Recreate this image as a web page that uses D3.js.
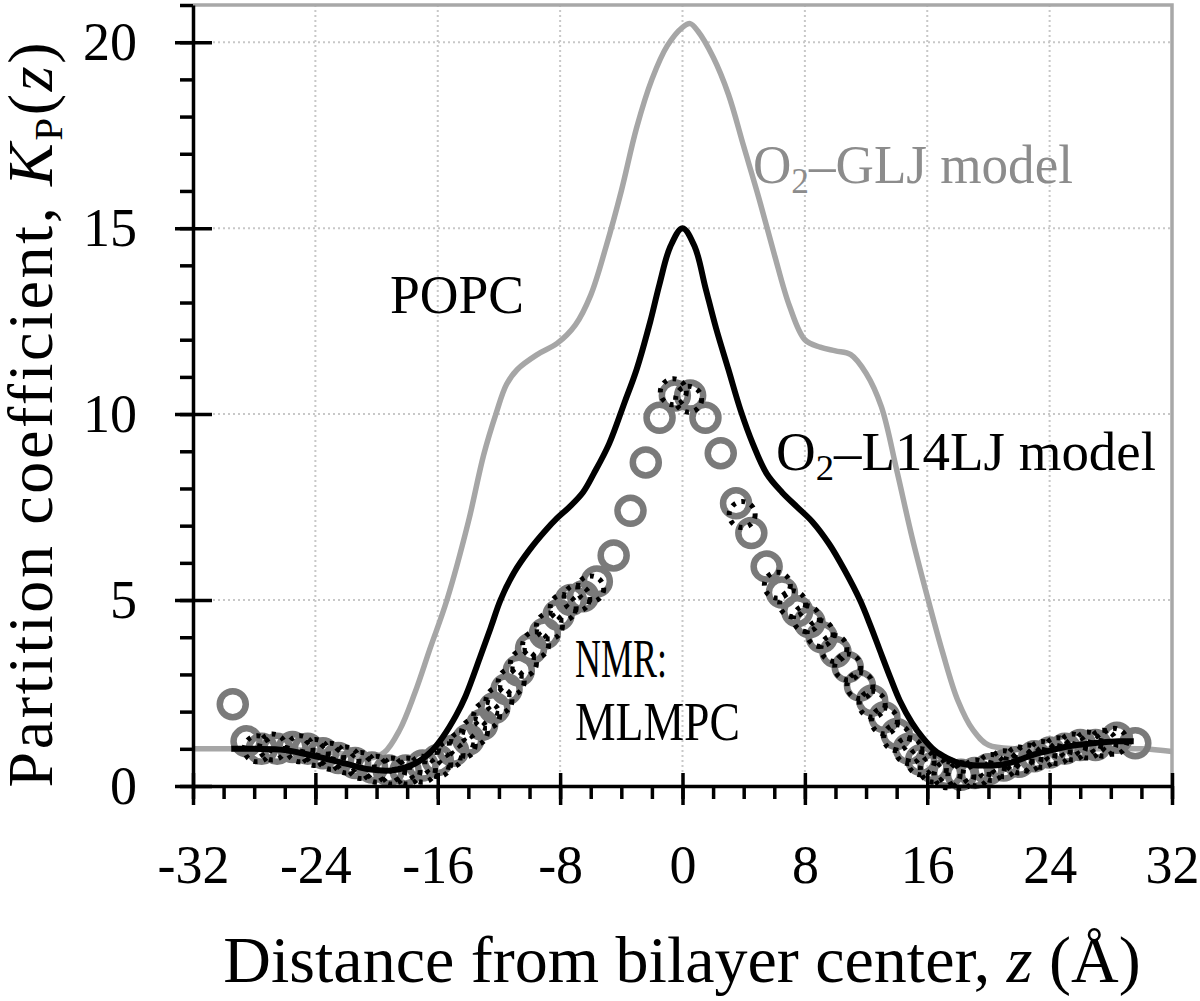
<!DOCTYPE html>
<html>
<head>
<meta charset="utf-8">
<script src="https://cdn.jsdelivr.net/npm/d3@7"></script>
<style>
  body { margin: 0; background: #fff; }
  svg { display: block; }
</style>
</head>
<body>
<div id="chart"></div>
<script>
// O2-GLJ model (grey line)
var gljZ = [-32, -28, -24, -22, -20.5, -19.5, -18.5, -17.5, -16.5, -15.4, -14, -13, -12.2, -11.5, -10.8, -9.5, -8.2,
            -7, -6, -5, -4, -3, -2, -1, 0, 0.5, 1, 2, 3, 4, 5, 6, 7, 8, 9, 10, 11, 12, 13, 14, 15, 16, 17, 18, 19, 20,
            22, 26, 30, 32];
var gljK = [1.0, 1.0, 0.95, 0.85, 0.75, 0.9, 1.5, 2.5, 3.7, 5.0, 7.1, 8.9, 10.0, 10.8, 11.2, 11.6, 11.9,
            12.4, 13.2, 14.5, 16.0, 17.7, 19.0, 19.9, 20.4, 20.5, 20.3, 19.6, 18.6, 17.2, 15.8, 14.3, 12.9, 12.0, 11.8, 11.7, 11.6, 11.1, 10.2, 8.5, 6.7, 5.1, 3.6, 2.3, 1.5, 1.1,
            1.0, 1.0, 1.0, 0.93];

// O2-L14LJ model (black line)
var l14Z = [-29.5, -28, -26, -24, -22, -20.5, -19, -17.5, -16.5, -15.7, -14.8, -14.2, -13.2, -12.5, -11.9, -11, -10, -9,
            -8.2, -7.4, -6.5, -5.8, -4.8, -3.8, -3, -2.1, -1.5, -0.8, 0, 0.8, 1.5, 2.2, 3, 3.8, 4.6, 5.5, 6.5, 7.5,
            8.5, 9.6, 10.6, 11.6, 12.3, 12.9, 13.6, 14.2, 15, 15.7, 16.5, 17.3, 18.2, 19, 20, 21.2, 22, 23, 24, 25,
            26.8, 28.5, 29.5];
var l14K = [1.0, 1.0, 0.97, 0.8, 0.6, 0.45, 0.42, 0.6, 0.9, 1.3, 1.9, 2.4, 3.5, 4.3, 5.0, 5.75, 6.35, 6.85,
            7.2, 7.5, 7.9, 8.4, 9.2, 10.3, 11.2, 12.5, 13.5, 14.5, 15.0, 14.5, 13.4, 12.3, 11.2, 10.1, 9.2, 8.4, 7.9, 7.5,
            7.1, 6.5, 5.8, 5.0, 4.3, 3.65, 2.9, 2.3, 1.7, 1.3, 0.95, 0.75, 0.6, 0.56, 0.55, 0.6, 0.7, 0.85, 0.95, 1.05,
            1.15, 1.2, 1.2];

// NMR: MLMPC (grey circles)
var nmrZ = [-29.4, -28.5, -27.5, -26.5, -25.5, -24.5, -23.5, -22.5, -21.4, -20.3, -19.2, -18.1, -17, -16, -15, -14,
            -13.1, -12.3, -11.5, -10.7, -9.9, -9, -8.1, -7.3, -6.5, -5.6, -4.5, -3.4, -2.4, -1.5, -0.5, 0.5, 1.5, 2.5,
            3.5, 4.5, 5.5, 6.5, 7.5, 8.3, 9.1, 10, 10.8, 11.6, 12.4, 13.2, 14, 14.8, 15.6, 16.4, 17.3, 18.2, 19.1, 20,
            21, 22, 23, 24, 25, 26, 27, 28.4, 29.6];
var nmrK = [2.2, 1.2, 1.0, 1.0, 1.05, 1.0, 0.88, 0.75, 0.62, 0.5, 0.42, 0.42, 0.55, 0.7, 0.95, 1.25,
            1.65, 2.1, 2.6, 3.1, 3.7, 4.1, 4.6, 5.0, 5.1, 5.5, 6.2, 7.4, 8.7, 9.9, 10.5, 10.5, 9.9, 8.95,
            7.6, 6.8, 5.9, 5.2, 4.7, 4.4, 4.0, 3.6, 3.2, 2.7, 2.3, 1.85, 1.4, 1.0, 0.7, 0.5, 0.35, 0.3, 0.35, 0.45,
            0.55, 0.65, 0.8, 0.9, 1.0, 1.1, 1.1, 1.3, 1.15];

// second NMR set (black dotted circles)
var dotZ = [-27.8, -26.8, -25, -24, -23, -22, -21, -20, -19, -18, -17, -16, -15.2, -14.4, -13.6, -12.8, -12, -11.2,
            -10.4, -9.6, -8.7, -7.8, -6.9, -6, -0.6, 0.4, 3.9, 6.2, 7.2, 8.1, 9, 9.9, 10.8, 11.6, 12.4, 13.2, 14, 14.8,
            15.6, 16.4, 17.3, 18.2, 19.2, 20.2, 21, 22, 22.6, 23.5, 24.5, 25.5, 26.5, 27.5, 28.2];
var dotK = [1.0, 1.05, 1.0, 0.9, 0.8, 0.7, 0.55, 0.45, 0.4, 0.4, 0.45, 0.6, 0.85, 1.1, 1.45, 1.9, 2.3, 2.8,
            3.3, 3.8, 4.3, 4.8, 5.05, 5.3, 10.6, 10.4, 7.3, 5.4, 4.9, 4.5, 4.1, 3.7, 3.2, 2.7, 2.2, 1.75, 1.3, 0.95,
            0.65, 0.45, 0.3, 0.28, 0.35, 0.5, 0.6, 0.7, 0.75, 0.85, 0.95, 1.05, 1.1, 1.15, 1.2];

var xMajor = [-32, -24, -16, -8, 0, 8, 16, 24, 32];
var yMajor = [0, 5, 10, 15, 20];

(function() {
  var W = 1200, H = 1001;
  var mLeft = 193, mRight = 1172, mTop = 5, mBottom = 786;
  var serif = "'Liberation Serif', 'Times New Roman', serif";

  var svg = d3.select("#chart").append("svg")
      .attr("width", W)
      .attr("height", H);

  var x = d3.scaleLinear().domain([-32, 32]).range([mLeft, mRight]);
  var y = d3.scaleLinear().domain([0, 21]).range([mBottom, mTop]);

  function pts(zs, ks) {
    return zs.map(function(z, i) { return {z: z, k: ks[i]}; });
  }

  // grid
  svg.append("g").selectAll("line")
      .data(xMajor.slice(1, -1))
    .enter().append("line")
      .attr("x1", function(d) { return x(d); })
      .attr("x2", function(d) { return x(d); })
      .attr("y1", mTop)
      .attr("y2", mBottom)
      .style("stroke", "#c8c8c8")
      .style("stroke-width", 2)
      .style("stroke-dasharray", "2,3");

  svg.append("g").selectAll("line")
      .data(yMajor.slice(1))
    .enter().append("line")
      .attr("x1", mLeft)
      .attr("x2", mRight)
      .attr("y1", function(d) { return y(d); })
      .attr("y2", function(d) { return y(d); })
      .style("stroke", "#c8c8c8")
      .style("stroke-width", 2)
      .style("stroke-dasharray", "2,3");

  // frame top/right
  svg.append("path")
      .attr("d", "M" + mLeft + "," + mTop + "H" + mRight + "V" + mBottom)
      .style("fill", "none")
      .style("stroke", "#a8a8a8")
      .style("stroke-width", 3.5);

  var line = d3.line()
      .x(function(d) { return x(d.z); })
      .y(function(d) { return y(d.k); })
      .curve(d3.curveCatmullRom.alpha(0.5));

  svg.append("path")
      .datum(pts(gljZ, gljK))
      .attr("d", line)
      .style("fill", "none")
      .style("stroke", "#a6a6a6")
      .style("stroke-width", 5.5);

  svg.append("g").selectAll("circle")
      .data(pts(nmrZ, nmrK))
    .enter().append("circle")
      .attr("cx", function(d) { return x(d.z); })
      .attr("cy", function(d) { return y(d.k); })
      .attr("r", 13)
      .style("fill", "none")
      .style("stroke", "#7a7a7a")
      .style("stroke-width", 6.5);

  svg.append("path")
      .datum(pts(l14Z, l14K))
      .attr("d", line)
      .style("fill", "none")
      .style("stroke", "#000")
      .style("stroke-width", 6);

  svg.append("g").selectAll("circle")
      .data(pts(dotZ, dotK))
    .enter().append("circle")
      .attr("cx", function(d) { return x(d.z); })
      .attr("cy", function(d) { return y(d.k); })
      .attr("r", 13)
      .style("fill", "none")
      .style("stroke", "#000")
      .style("stroke-width", 5)
      .style("stroke-dasharray", "4,6");

  // axes
  var xAxis = svg.append("g")
      .attr("transform", "translate(0," + mBottom + ")")
      .call(d3.axisBottom(x).tickValues(d3.range(-32, 33, 2)).tickSize(13).tickSizeOuter(0).tickFormat(""));
  xAxis.selectAll("line").style("stroke", "#000").style("stroke-width", 3.5);
  xAxis.select(".domain").style("stroke", "#000").style("stroke-width", 3.5);

  var xMaj = svg.append("g")
      .attr("transform", "translate(0," + mBottom + ")")
      .call(d3.axisBottom(x).tickValues(xMajor).tickSize(19).tickPadding(40).tickSizeOuter(0)
        .tickFormat(function(d) { return String(d); }));
  xMaj.select(".domain").remove();
  xMaj.selectAll("line").attr("y1", -13).style("stroke", "#000").style("stroke-width", 3.5);
  xMaj.selectAll("text")
      .style("font-family", serif)
      .style("font-size", "54px")
      .style("fill", "#000");

  var yAxis = svg.append("g")
      .attr("transform", "translate(" + mLeft + ",0)")
      .call(d3.axisLeft(y).tickValues(d3.range(0, 22, 1)).tickSize(13).tickSizeOuter(0).tickFormat(""));
  yAxis.selectAll("line").style("stroke", "#000").style("stroke-width", 3.5);
  yAxis.select(".domain").style("stroke", "#000").style("stroke-width", 3.5);

  var yMaj = svg.append("g")
      .attr("transform", "translate(" + mLeft + ",0)")
      .call(d3.axisLeft(y).tickValues(yMajor).tickSize(18).tickPadding(38).tickSizeOuter(0)
        .tickFormat(function(d) { return String(d); }));
  yMaj.select(".domain").remove();
  yMaj.selectAll("line").attr("x1", 19).style("stroke", "#000").style("stroke-width", 3.5);
  yMaj.selectAll("text")
      .style("font-family", serif)
      .style("font-size", "54px")
      .style("fill", "#000");

  // axis titles
  var xt = svg.append("text")
      .attr("x", 682)
      .attr("y", 982)
      .attr("text-anchor", "middle")
      .style("font-family", serif)
      .style("font-size", "66px");
  xt.append("tspan").text("Distance from bilayer center, ");
  xt.append("tspan").style("font-style", "italic").text("z");
  xt.append("tspan").text(" (Å)");

  var yt = svg.append("text")
      .attr("transform", "translate(52,415) rotate(-90)")
      .attr("text-anchor", "middle")
      .attr("textLength", 745)
      .attr("lengthAdjust", "spacing")
      .style("font-family", serif)
      .style("font-size", "64px");
  yt.append("tspan").text("Partition coefficient, ");
  yt.append("tspan").style("font-style", "italic").text("K");
  yt.append("tspan").attr("dy", 10).style("font-size", "41px").text("P");
  yt.append("tspan").attr("dy", -10).text("(");
  yt.append("tspan").style("font-style", "italic").text("z");
  yt.append("tspan").text(")");

  // annotations
  function o2label(tx, ty, rest, color, len) {
    var t = svg.append("text")
        .attr("x", tx)
        .attr("y", ty)
        .attr("textLength", len)
        .attr("lengthAdjust", "spacingAndGlyphs")
        .style("font-family", serif)
        .style("font-size", "54px")
        .style("fill", color);
    t.append("tspan").text("O");
    t.append("tspan").attr("dy", 10).style("font-size", "36px").text("2");
    t.append("tspan").attr("dy", -10).text("–" + rest);
  }
  o2label(753, 183, "GLJ model", "#8c8c8c", 320);
  o2label(776, 470, "L14LJ model", "#000", 380);

  svg.append("text")
      .attr("x", 390).attr("y", 313)
      .attr("textLength", 134).attr("lengthAdjust", "spacingAndGlyphs")
      .style("font-family", serif).style("font-size", "54px")
      .text("POPC");
  svg.append("text")
      .attr("x", 575).attr("y", 677)
      .attr("textLength", 92).attr("lengthAdjust", "spacingAndGlyphs")
      .style("font-family", serif).style("font-size", "54px")
      .text("NMR:");
  svg.append("text")
      .attr("x", 575).attr("y", 740)
      .attr("textLength", 165).attr("lengthAdjust", "spacingAndGlyphs")
      .style("font-family", serif).style("font-size", "54px")
      .text("MLMPC");
})();
</script>
</body>
</html>
